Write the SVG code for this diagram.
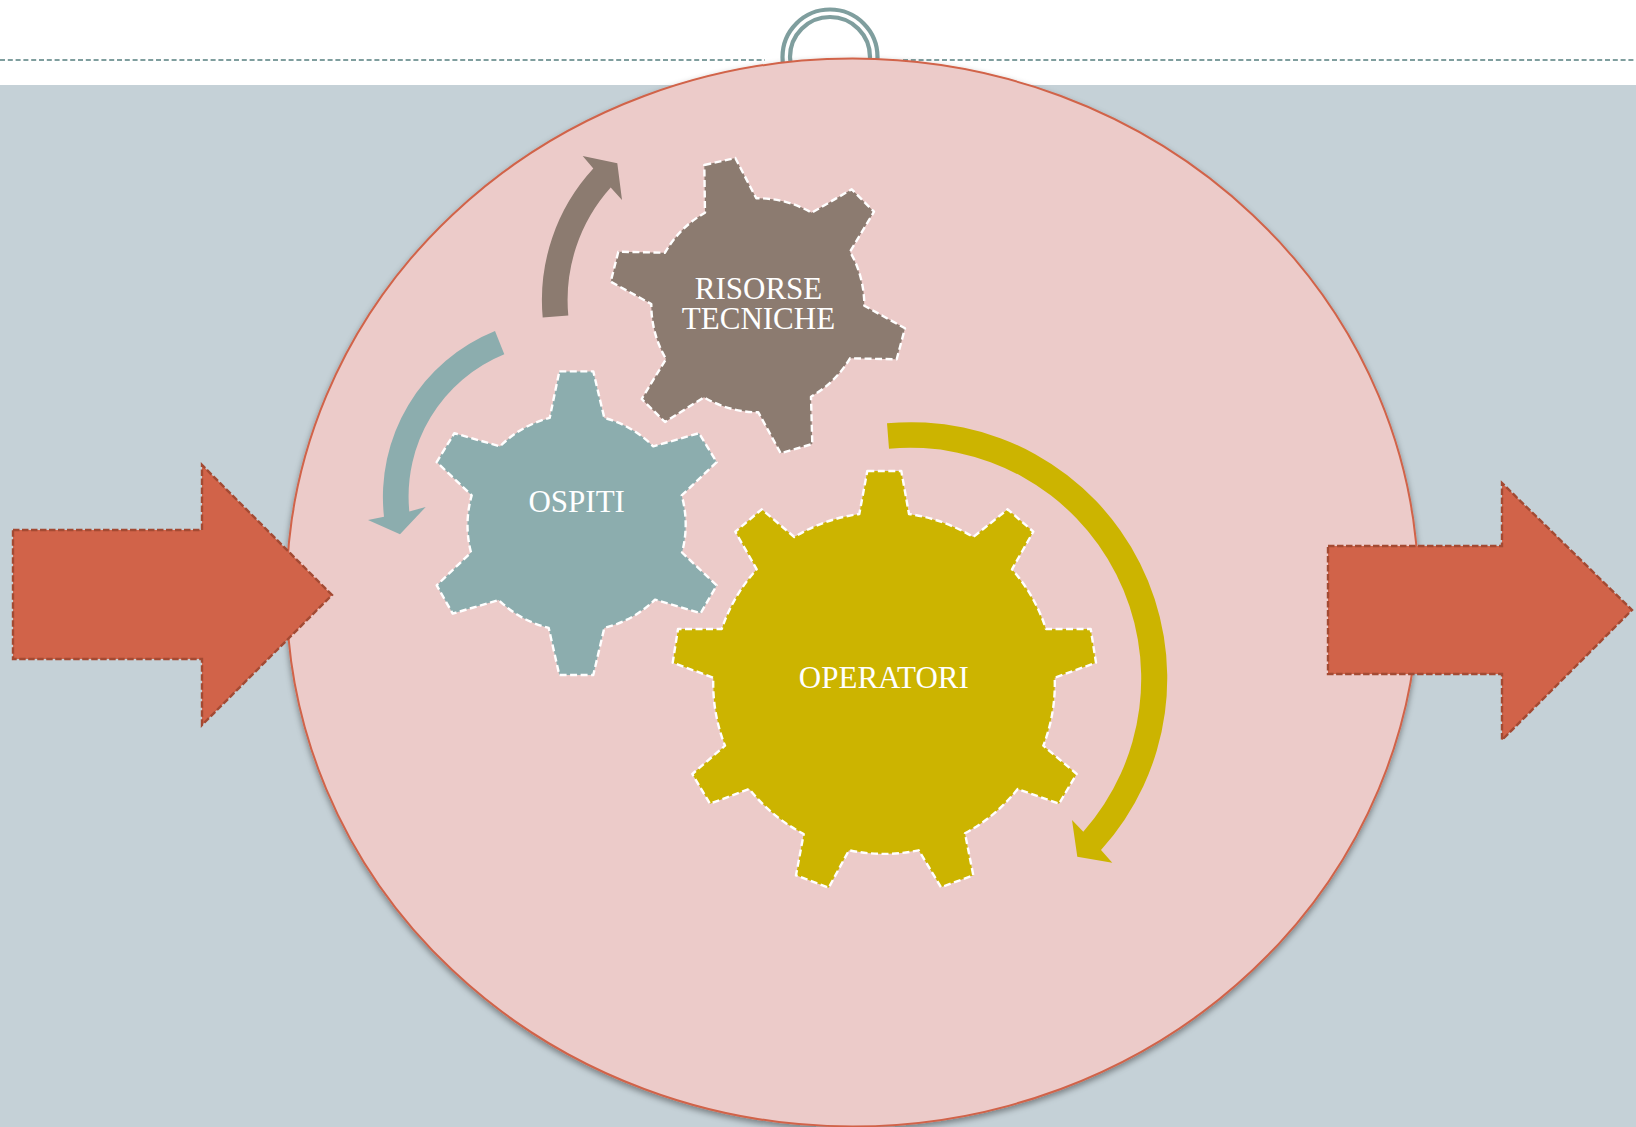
<svg xmlns="http://www.w3.org/2000/svg" width="1636" height="1127" viewBox="0 0 1636 1127">
<defs>
<filter id="sh" x="-5%" y="-5%" width="110%" height="110%"><feDropShadow dx="0" dy="3" stdDeviation="3" flood-color="#000" flood-opacity="0.4"/></filter>
</defs>
<style>
.rule{stroke:#7F9E9E;stroke-width:2;stroke-dasharray:5 2.8;fill:none}
.ring{stroke:#7F9E9E;stroke-width:4.2;fill:none}
.gear{stroke:#fff;stroke-width:2.4;stroke-dasharray:7 3.5;stroke-linejoin:round}
.block{fill:#D16349;stroke:#A34A33;stroke-width:2.4;stroke-dasharray:6.5 2.5}
.lbl{font-family:"Liberation Serif",serif;font-size:31px;fill:#fff;text-anchor:middle}
</style>
<rect width="1636" height="1127" fill="#fff"/>
<rect y="85" width="1636" height="1042" fill="#C5D1D7"/>
<path class="rule" d="M0 60H765"/>
<path class="rule" d="M903 60H1636"/>
<circle class="ring" cx="830" cy="57" r="47.5"/>
<circle class="ring" cx="830" cy="57" r="40"/>
<g id="circle"><ellipse cx="852.5" cy="592.5" rx="566" ry="534" fill="#ECCBC9" stroke="#D16349" stroke-width="2" filter="url(#sh)"/></g>
<g id="connectors">
<path fill="#8C7B70" d="M542.7 317.5A194 194 0 0 1 593.3 168.6L582.7 156L617.3 163.2L622 200L610.7 187.5A168.4 168.4 0 0 0 568.3 315.4Z"/>
<path fill="#8CADAE" d="M495 331A179 179 0 0 0 384 516.8L368 520L400 534.3L425.7 507L409.3 511.4A153.5 153.5 0 0 1 504.3 354.3Z"/>
<path fill="#CCB400" d="M887 423.3A256 256 0 0 1 1101 850L1112.3 862.7L1077.3 856.7L1072 820L1083.3 831.7A231 231 0 0 0 889 448.7Z"/>
</g>
<g id="input-arrow"><path class="block" d="M13 530H202V465L332 595L202 725V659H13Z"/></g>
<g id="output-arrow"><path class="block" d="M1328 546H1502V483L1632 610L1502 740V674H1328Z"/></g>
<g id="gear-risorse">
<path class="gear" fill="#8C7B70" d="M704.3 165L735.3 158L756.3 198.3A107 107 0 0 1 811.7 212.7L851.7 189.3L874 211.7L850 251.7A107 107 0 0 1 864.3 305.7L905 328.3L896.7 359.3L850 358.3A107 107 0 0 1 811 396.7L812.3 444L780.7 453.3L758.3 412.3A107 107 0 0 1 704 397.3L665 422L641.7 399L666 359A107 107 0 0 1 651.3 304L610.7 281.7L618.3 251.7L665 252.7A107 107 0 0 1 705 212.7Z"/>
<text class="lbl"><tspan x="758.5" y="299">RISORSE</tspan><tspan x="758.5" y="329">TECNICHE</tspan></text>
</g>
<g id="gear-ospiti">
<path class="gear" fill="#8CADAE" d="M559.3 371.4L593.3 371.4L604.3 417.9A108 108 0 0 1 653.3 446.4L699 433.2L716.7 462.1L681.7 495.4A108 108 0 0 1 682 552.5L716.7 585.4L700.7 613.2L655 599.6A108 108 0 0 1 604.3 627.9L593.3 675L559.3 675L548.7 627.9A108 108 0 0 1 498.7 600L452.7 613.6L436.7 585.4L471 552.5A108 108 0 0 1 471.7 495.4L436.7 462.1L454.3 433.2L500 446.4A108 108 0 0 1 549.7 417.9Z"/>
<text class="lbl" x="576.7" y="511.5">OSPITI</text>
</g>
<g id="gear-operatori">
<path class="gear" fill="#CCB400" d="M867.3 471L901.3 471L909 514A170 170 0 0 1 973.3 537L1007.7 509.3L1033.3 531.7L1012 569.3A170 170 0 0 1 1046 629L1090.7 629L1096 662.7L1054.7 677.7A170 170 0 0 1 1043.3 745.7L1076.7 774L1059 803.7L1017.7 789A170 170 0 0 1 965 833.3L973.3 875.3L941 887.3L918.7 850.3A170 170 0 0 1 849 850.3L828.7 887.7L796 875.3L803.7 834A170 170 0 0 1 749.3 789L710 803.7L692.3 774L725 745.7A170 170 0 0 1 713.3 677.7L672.7 662.7L678 629L721.7 629A170 170 0 0 1 756.7 569.3L735.3 531.7L761.7 509.3L794.3 537A170 170 0 0 1 859.3 514Z"/>
<text class="lbl" x="883.8" y="688">OPERATORI</text>
</g>
</svg>
